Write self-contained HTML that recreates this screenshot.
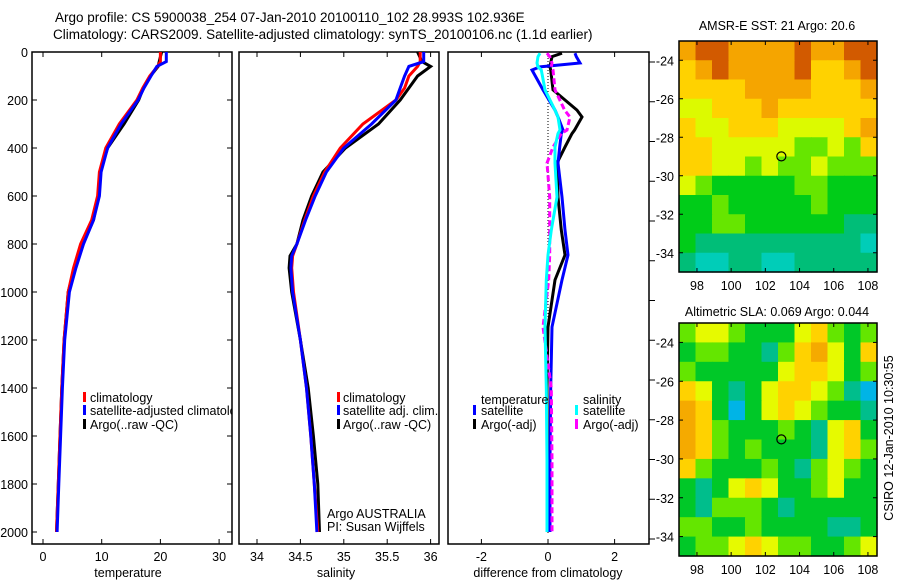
<!DOCTYPE html>
<html><head><meta charset="utf-8"><style>
html,body{margin:0;padding:0;background:#fff;}
svg{display:block;font-family:"Liberation Sans",sans-serif;}
text{font-size:12.5px;fill:#000;}
</style></head><body>
<svg id="fig" width="900" height="580" viewBox="0 0 900 580" xmlns="http://www.w3.org/2000/svg">
<defs>
<clipPath id="c1"><rect x="32" y="52" width="200" height="492"/></clipPath>
<clipPath id="c2"><rect x="239" y="52" width="200" height="492"/></clipPath>
<clipPath id="c3"><rect x="448" y="52" width="201" height="492"/></clipPath>
</defs>
<text x="55" y="22" style="font-size:13.5px">Argo profile: CS 5900038_254 07-Jan-2010 20100110_102 28.993S 102.936E</text>
<text x="53" y="39" style="font-size:13.5px">Climatology: CARS2009. Satellite-adjusted climatology: synTS_20100106.nc (1.1d earlier)</text>
<g id="layer"></g>
<text x="128" y="577" text-anchor="middle">temperature</text>
<text x="336" y="577" text-anchor="middle">salinity</text>
<text x="548" y="577" text-anchor="middle">difference from climatology</text>
<text x="777" y="30" text-anchor="middle">AMSR-E SST: 21 Argo: 20.6</text>
<text x="777" y="316" text-anchor="middle">Altimetric SLA: 0.069 Argo: 0.044</text>
<text x="0" y="0" text-anchor="middle" transform="translate(893,438) rotate(-90)">CSIRO 12-Jan-2010 10:30:55</text>
<g>
<rect x="83" y="392" width="3" height="10" fill="#f00"/><text x="90" y="402">climatology</text>
<rect x="83" y="405" width="3" height="10" fill="#00f"/><text x="90" y="415" clip-path="url(#c1)">satellite-adjusted climatology</text>
<rect x="83" y="419" width="3" height="10" fill="#000"/><text x="90" y="429">Argo(..raw -QC)</text>
</g>
<g>
<rect x="337" y="392" width="3" height="10" fill="#f00"/><text x="343" y="402">climatology</text>
<rect x="337" y="405" width="3" height="10" fill="#00f"/><text x="343" y="415">satellite adj. clim.</text>
<rect x="337" y="419" width="3" height="10" fill="#000"/><text x="343" y="429">Argo(..raw -QC)</text>
<text x="327" y="518">Argo AUSTRALIA</text>
<text x="327" y="531">PI: Susan Wijffels</text>
</g>
<g>
<text x="481" y="404">temperature</text>
<rect x="473" y="405" width="3" height="10" fill="#00f"/><text x="481" y="415">satellite</text>
<rect x="473" y="419" width="3" height="10" fill="#000"/><text x="481" y="429">Argo(-adj)</text>
<text x="583" y="404">salinity</text>
<rect x="575" y="405" width="3" height="10" fill="#0ff"/><text x="583" y="415">satellite</text>
<rect x="575" y="419" width="3" height="10" fill="#f0f"/><text x="583" y="429">Argo(-adj)</text>
</g>
</svg>
<script>
const depthTicks=[0,200,400,600,800,1000,1200,1400,1600,1800,2000];
const tempTicks=[0,10,20,30];
const salTicks=[34,34.5,35,35.5,36];
const diffTicks=[-2,0,2];
const lonTicks=[98,100,102,104,106,108];
const latTicks=[-24,-26,-28,-30,-32,-34];

const tDepth=[0,40,60,100,150,200,300,400,500,600,700,800,900,1000,1200,1400,1600,1800,2000];
const tClim=[20,20,19.5,18.2,17,16,13,10.7,9.6,9.3,8.3,6.4,5.2,4.3,3.6,3.2,2.9,2.6,2.3];
const tSat=[21,21,19.4,18.4,17.2,16.2,13.3,11,9.9,9.6,8.6,6.9,5.6,4.5,3.7,3.3,3,2.7,2.4];
const tArgo=[20.2,19.8,19.6,18.3,17.1,16.3,13.8,11,9.7,9.4,8.6,6.8,5.4,4.3,3.6,3.2,2.9,2.6,2.3];

const sDepth=[0,40,60,100,150,200,300,400,500,600,700,800,850,900,1000,1200,1400,1600,1800,2000];
const sClim=[35.88,35.88,35.85,35.75,35.7,35.6,35.22,34.96,34.78,34.65,34.55,34.46,34.41,34.4,34.42,34.5,34.57,34.62,34.66,34.7];
const sSat=[35.92,35.92,35.75,35.7,35.65,35.6,35.32,35,34.8,34.67,34.56,34.46,34.4,34.39,34.41,34.5,34.57,34.62,34.66,34.69];
const sArgo=[35.85,35.9,36,35.85,35.75,35.65,35.4,35.02,34.76,34.63,34.53,34.46,34.38,34.37,34.4,34.5,34.59,34.65,34.7,34.72];

const dDepth=[5,19,46,62,75,158,242,271,325,340,396,463,604,742,846,950,1146,1400,1700,2000];
const dTempSat=[0.81,0.85,0.96,-0.24,-0.48,-0.15,0.21,0.3,0.45,0.4,0.35,0.3,0.42,0.51,0.6,0.42,0.12,0.08,0.06,0.06];
const dTempArgo=[0.42,0.12,0.08,0.06,0.08,0.15,0.87,1.02,0.8,0.72,0.51,0.27,0.3,0.4,0.51,0.21,0,-0.03,-0.02,0];
const dSalSat=[-0.24,-0.3,-0.33,-0.3,-0.2,-0.09,0.21,0.3,0.36,0.3,0.21,0.21,0.27,0.1,0,-0.05,-0.09,-0.05,-0.03,-0.03];
const dSalArgo=[-0.03,0.05,0.12,0.1,0.15,0.21,0.5,0.66,0.57,0.4,0.15,-0.03,0.05,0.05,0.05,0.02,-0.15,0.1,0.12,0.12];

const sstGrid=[
[6,7,7,6,6,6,6,7,6,6,7,7],
[5,6,7,6,6,6,6,7,5,5,6,7],
[5,5,5,5,6,6,6,6,5,5,5,6],
[4,4,5,5,5,6,5,5,5,5,5,5],
[5,4,4,5,5,5,4,4,4,4,5,6],
[5,5,4,4,4,4,4,3,3,4,3,5],
[5,5,4,4,3,4,3,3,4,3,3,3],
[4,3,2,2,2,2,2,3,3,2,2,2],
[2,2,3,2,2,2,2,2,3,2,2,2],
[2,2,3,3,2,2,2,2,2,2,1,1],
[2,1,1,1,1,1,1,1,1,1,1,0],
[1,0,0,1,1,0,0,1,1,1,1,1]];
const slaGrid=[
[3,4,4,3,2,2,2,4,5,3,2,3],
[2,3,3,2,2,1,3,5,6,4,2,5],
[3,2,2,2,2,2,4,5,5,4,2,3],
[5,4,2,1,2,4,5,5,4,3,1,0],
[6,5,2,0,2,4,5,4,3,2,2,1],
[6,5,3,2,2,2,3,2,1,4,5,2],
[6,5,3,2,3,2,2,2,1,4,5,3],
[5,3,2,2,2,3,2,1,3,4,3,2],
[2,1,2,4,5,4,2,2,3,4,2,2],
[2,1,3,3,3,2,1,2,2,2,2,2],
[3,3,2,2,3,2,2,2,2,1,1,2],
[2,3,3,4,5,4,3,3,2,2,3,4]];
const sstColors=["#00cdb8","#00be78","#00cc18","#66e600","#dcfa00","#ffd200","#f5a500","#d25a00"];
const slaColors=["#00b4e6","#00be8c","#00c828","#64e600","#e6fa00","#ffd200","#f5aa00"];
const floatLon=102.936, floatLat=-28.993;

const NS="http://www.w3.org/2000/svg";
const L=document.getElementById('layer');
function mk(tag,at,parent){const e=document.createElementNS(NS,tag);for(const k in at)e.setAttribute(k,at[k]);(parent||L).appendChild(e);return e;}
const yD=d=>52+d*0.24;
const xT=v=>43+v*5.87;
const xS=v=>257+(v-34)*86.8;
const xDf=v=>548+v*33.3;

function frame(x,y,w,h,name){const r=mk('rect',{x:x,y:y,width:w,height:h,fill:'none',stroke:'#000','stroke-width':1.5});

}
function txt(x,y,s,anchor,name){const t=mk('text',{x:x,y:y,'text-anchor':anchor});t.textContent=s;

}
function line(xs,ds,fx,color,clip,name,dash){
 const pts=xs.map((v,i)=>fx(v).toFixed(1)+','+yD(ds[i]).toFixed(1)).join(' ');
 const at={points:pts,fill:'none',stroke:color,'stroke-width':3,'clip-path':'url(#'+clip+')'};
 if(dash)at['stroke-dasharray']=dash;
 const p=mk('polyline',at);
 
 }

// panel frames
frame(32,52,200,492,'temperature-axes');
frame(239,52,200,492,'salinity-axes');
frame(448,52,201,492,'difference-axes');
// depth ticks
depthTicks.forEach(d=>{const y=yD(d);
 mk('line',{x1:32,y1:y,x2:37,y2:y,stroke:'#000'});mk('line',{x1:227,y1:y,x2:232,y2:y,stroke:'#000'});
 txt(28,y+5,String(d),'end','depth-tick-label');});
tempTicks.forEach(v=>{const x=xT(v);mk('line',{x1:x,y1:52,x2:x,y2:57,stroke:'#000'});mk('line',{x1:x,y1:539,x2:x,y2:544,stroke:'#000'});
 txt(x,561,String(v),'middle','temperature-tick-label');});
salTicks.forEach(v=>{const x=xS(v);mk('line',{x1:x,y1:52,x2:x,y2:57,stroke:'#000'});mk('line',{x1:x,y1:539,x2:x,y2:544,stroke:'#000'});
 txt(x,561,String(v),'middle','salinity-tick-label');});
diffTicks.forEach(v=>{const x=xDf(v);mk('line',{x1:x,y1:52,x2:x,y2:57,stroke:'#000'});mk('line',{x1:x,y1:539,x2:x,y2:544,stroke:'#000'});
 txt(x,561,String(v),'middle','difference-tick-label');});
for(let i=0;i<13;i++){const y=62+i*39.75;mk('line',{x1:649,y1:y,x2:655,y2:y,stroke:'#000'});}
// zero line
const z=mk('line',{x1:xDf(0),y1:52,x2:xDf(0),y2:534,stroke:'#000','stroke-dasharray':'1,2'});



line(tArgo,tDepth,xT,'#000','c1','temperature-argo-line');
line(tClim,tDepth,xT,'#f00','c1','temperature-climatology-line');
line(tSat,tDepth,xT,'#00f','c1','temperature-satellite-line');
line(sArgo,sDepth,xS,'#000','c2','salinity-argo-line');
line(sClim,sDepth,xS,'#f00','c2','salinity-climatology-line');
line(sSat,sDepth,xS,'#00f','c2','salinity-satellite-line');
line(dTempArgo,dDepth,xDf,'#000','c3','diff-temperature-argo-line');
line(dTempSat,dDepth,xDf,'#00f','c3','diff-temperature-satellite-line');
line(dSalArgo,dDepth,xDf,'#f0f','c3','diff-salinity-argo-line','6,3');
line(dSalSat,dDepth,xDf,'#0ff','c3','diff-salinity-satellite-line');

// maps
const lonL=96.95, lonR=108.53, latT=-23.0, latB=-35.0;
function drawMap(grid,colors,top,bottom,name){
 const left=679,right=877;
 const xL=lo=>left+(lo-lonL)/(lonR-lonL)*(right-left);
 const yL=la=>top+(latT-la)/(latT-latB)*(bottom-top);
 const g=mk('g',{});
 
 
 const rows=grid.length,cols=grid[0].length;
 const cw=(right-left)/cols,ch=(bottom-top)/rows;
 grid.forEach((row,r)=>row.forEach((v,c)=>{
  const cell=mk('rect',{x:(left+c*cw).toFixed(2),y:(top+r*ch).toFixed(2),width:(cw+0.6).toFixed(2),height:(ch+0.6).toFixed(2),fill:colors[v]},g);
  
  
 }));
 frame(left,top,right-left,bottom-top,name+'-frame');
 lonTicks.forEach(lo=>{const x=xL(lo);mk('line',{x1:x,y1:top,x2:x,y2:top+4,stroke:'#000'});mk('line',{x1:x,y1:bottom-4,x2:x,y2:bottom,stroke:'#000'});
  txt(x,bottom+18,String(lo),'middle','longitude-tick-label');});
 latTicks.forEach(la=>{const y=yL(la);mk('line',{x1:left,y1:y,x2:left+4,y2:y,stroke:'#000'});mk('line',{x1:right-4,y1:y,x2:right,y2:y,stroke:'#000'});
  txt(left-5,y+5,String(la),'end','latitude-tick-label');});
 const m=mk('circle',{cx:xL(floatLon),cy:yL(floatLat),r:4.5,fill:'none',stroke:'#000','stroke-width':1.2});
 
 
}
drawMap(sstGrid,sstColors,41,272,'sst-map');
drawMap(slaGrid,slaColors,323,556,'sla-map');
</script>
</body></html>
